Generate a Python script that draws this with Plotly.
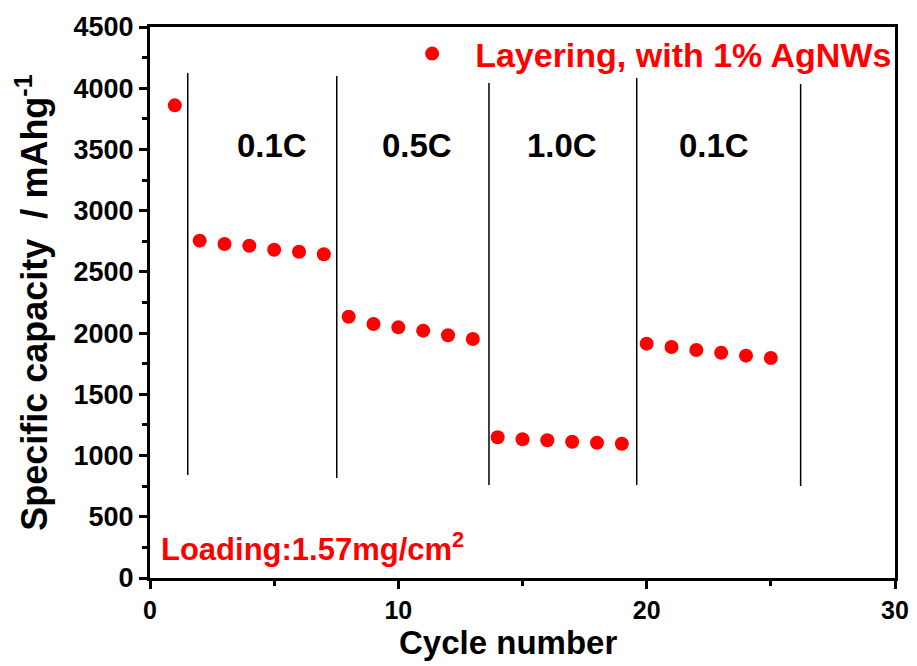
import plotly.graph_objects as go

cycles = list(range(1, 26))
capacity = [3860,
            2755, 2728, 2714, 2681, 2665, 2644,
            2134, 2074, 2047, 2020, 1982, 1952,
            1149, 1133, 1125, 1113, 1105, 1097,
            1914, 1887, 1862, 1840, 1816, 1797]

divider_x = [1.52, 7.52, 13.65, 19.6, 26.2]
divider_top = [4125, 4100, 4043, 4084, 4035]
divider_bottom = [841, 816, 760, 760, 752]

rate_labels = ["0.1C", "0.5C", "1.0C", "0.1C"]
rate_x = [4.92, 10.76, 16.6, 22.7]
rate_y = [3530, 3530, 3530, 3530]

series_name = "Layering, with 1% AgNWs"
loading_text = "Loading:1.57mg/cm<sup>2</sup>"
x_title = "Cycle number"
y_title = "Specific capacity  / mAhg<sup>-1</sup>"

FONT = "Liberation Sans, Arial, sans-serif"

fig = go.Figure()
fig.add_trace(go.Scatter(
    x=cycles, y=capacity, mode="markers", name=series_name,
    marker=dict(color="#ff0000", size=14, symbol="circle"),
))

for xv, y0, y1 in zip(divider_x, divider_bottom, divider_top):
    fig.add_shape(type="line", xref="x", yref="y", x0=xv, x1=xv, y0=y0, y1=y1,
                  line=dict(color="black", width=1.5))

for t, xv, yv in zip(rate_labels, rate_x, rate_y):
    fig.add_annotation(x=xv, y=yv, xref="x", yref="y", text=t, showarrow=False,
                       font=dict(family=FONT, size=33, color="black", weight="bold"))

fig.add_annotation(x=0.012, y=0.017, xref="paper", yref="paper", text=loading_text,
                   showarrow=False, xanchor="left", yanchor="bottom",
                   font=dict(family=FONT, size=31, color="#ff0000", weight="bold"))

# x-axis title (placed slightly left of the plot centre, as in the reference)
fig.add_annotation(x=0.481, y=-0.117, xref="paper", yref="paper", text=x_title,
                   showarrow=False, xanchor="center", yanchor="middle",
                   font=dict(family=FONT, size=33, color="black", weight="bold"))

axis_common = dict(
    showgrid=False, zeroline=False, showline=True, linecolor="black", linewidth=3,
    mirror=True, ticks="outside", tickwidth=3, ticklen=8, tickcolor="black",
)

fig.update_xaxes(range=[0, 30], tickvals=[0, 10, 20, 30], ticktext=["0", "10", "20", "30"],
                 tickfont=dict(family=FONT, size=25, color="black", weight="bold"),
                 minor=dict(dtick=5, ticks="outside", ticklen=5, tickwidth=3, tickcolor="black"),
                 **axis_common)
fig.update_yaxes(range=[0, 4500], dtick=500,
                 tickfont=dict(family=FONT, size=27, color="black", weight="bold"),
                 minor=dict(dtick=250, ticks="outside", ticklen=5, tickwidth=3, tickcolor="black"),
                 title=dict(text=y_title, standoff=15,
                            font=dict(family=FONT, size=36, color="black", weight="bold")),
                 **axis_common)

fig.update_layout(
    width=909, height=658,
    margin=dict(l=142, r=22, t=19, b=88, autoexpand=False),
    plot_bgcolor="white", paper_bgcolor="white",
    showlegend=True,
    legend=dict(x=0.321, y=0.951, xanchor="left", yanchor="middle",
                bgcolor="rgba(0,0,0,0)", itemwidth=76,
                font=dict(family=FONT, size=34, color="#ff0000", weight="bold")),
)

fig.write_html("out.html")
